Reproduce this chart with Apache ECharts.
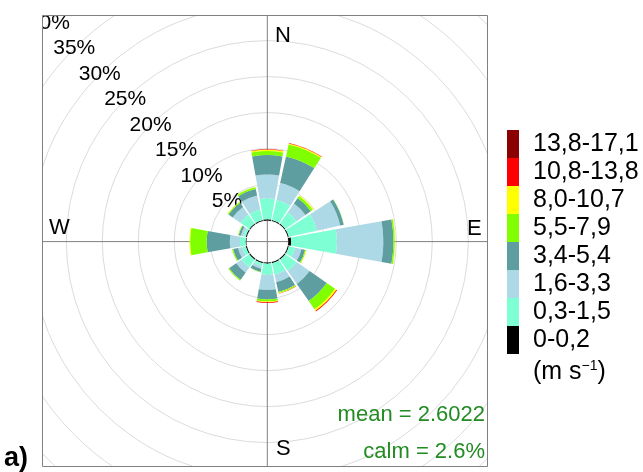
<!DOCTYPE html>
<html>
<head>
<meta charset="utf-8">
<script src="https://cdn.jsdelivr.net/npm/echarts@6/dist/echarts.min.js"></script>
<style>html,body{margin:0;padding:0;background:#fff}#c{width:643px;height:472px}</style>
</head>
<body>
<div id="c"></div>
<script>
// Directions (16 sectors, clockwise from North)
const directions = ['N','NNE','NE','ENE','E','ESE','SE','SSE','S','SSW','SW','WSW','W','WNW','NW','NNW'];
// Speed bins (m s-1)
const binLabels = ['0-0,2','0,3-1,5','1,6-3,3','3,4-5,4','5,5-7,9','8,0-10,7','10,8-13,8','13,8-17,1'];
const binColors = ['#000000','#7FFFD4','#ADD8E6','#5F9EA0','#7FFF00','#FFFF00','#FF0000','#8B0000'];
// Frequency (%) per bin, per direction
const bin0 = [0.2, 0.15, 0.15, 0.15, 0.4, 0.15, 0.15, 0.15, 0.15, 0.15, 0.15, 0.15, 0.1, 0.15, 0.15, 0.15];
const bin1 = [2.9, 2.85, 1.9, 4.0, 6.35, 0.9, 1.9, 1.6, 1.55, 0.4, 1.3, 0.5, 0.8, 0.35, 1.5, 1.5];
const bin2 = [3.3, 2.4, 1.5, 3.3, 6.45, 0.9, 2.2, 1.1, 2.1, 0.4, 0.9, 0.6, 1.4, 0.35, 1.3, 2.0];
const bin3 = [2.7, 3.8, 0.9, 0.5, 1.4, 0.5, 2.9, 1.4, 1.3, 0.45, 1.2, 0.7, 3.2, 0.3, 0.7, 0.9];
const bin4 = [0.55, 1.7, 0.35, 0.03, 0.2, 0.15, 1.4, 0.15, 0.3, 0.05, 0.15, 0.15, 2.3, 0.1, 0.15, 0.25];
const bin5 = [0.2, 0.15, 0.1, 0, 0.05, 0.05, 0.25, 0.05, 0.1, 0, 0, 0, 0.1, 0, 0.05, 0.05];
const bin6 = [0.05, 0.05, 0, 0, 0, 0, 0.1, 0.05, 0.1, 0, 0, 0, 0, 0, 0, 0];
const bin7 = [0, 0, 0, 0, 0, 0, 0, 0, 0, 0, 0, 0, 0, 0, 0, 0];
const binValues = [bin0, bin1, bin2, bin3, bin4, bin5, bin6, bin7];
// Radial axis (%)
const ringMax = 40;
const ringStep = 5;
const compassLabels = ['N','E','S','W'];
const meanText = 'mean = 2.6022';
const calmText = 'calm = 2.6%';

const FONT = '"Liberation Sans", Arial, sans-serif';
const C = [267.3, 241.6];
const HOLE = 21, ROUT = 309;

const chart = echarts.init(document.getElementById('c'), null, {renderer: 'canvas'});

const hidden = {axisLine:{show:false}, axisTick:{show:false}, axisLabel:{show:false}, splitLine:{show:false}};

const series = binLabels.map((name, i) => ({
  type: 'bar',
  name: name,
  coordinateSystem: 'polar',
  polarIndex: 0,
  stack: 'rose',
  data: binValues[i],
  barCategoryGap: '10%',
  itemStyle: {color: binColors[i]},
  emphasis: {disabled: true},
  z: 2
}));

const W = 643, H = 472;
const box = {x: 43, y: 16, w: 444, h: 450};
const mask = (x, y, w, h) => ({type:'rect', z: 100, silent: true, shape:{x, y, width:w, height:h}, style:{fill:'#fff'}});
const txt = (t, x, y, size, align, color, weight) => ({
  type:'text', z: 120, x, y, silent: true,
  style:{text:t, font:(weight||'normal') + ' ' + size + 'px ' + FONT, fill: color || '#000', align: align || 'left', verticalAlign:'middle'}
});

const option = {
  animation: false,
  backgroundColor: '#fff',
  polar: [
    {center: C, radius: [HOLE, ROUT]},
    {center: C, radius: [0, ROUT]},
    {center: C, radius: [HOLE, ROUT]}
  ],
  angleAxis: [
    Object.assign({polarIndex:0, type:'category', data: directions, startAngle: 90 + 360/directions.length/2, clockwise: true, boundaryGap: true}, hidden),
    Object.assign({polarIndex:1, type:'value', min:0, max:360, interval:90, startAngle:90, clockwise:true}, hidden,
      {splitLine:{show:true, lineStyle:{color:'#808080', width:1}}}),
    Object.assign({polarIndex:2, type:'value', min:0, max:360, startAngle:135}, hidden)
  ],
  radiusAxis: [
    Object.assign({polarIndex:0, type:'value', min:0, max:ringMax}, hidden),
    Object.assign({polarIndex:1, type:'value', min:0, max:1}, hidden),
    Object.assign({polarIndex:2, type:'value', min:0, max:ringMax, interval:ringStep}, hidden, {
      splitLine:{show:true, lineStyle:{color:'#dcdcdc', width:1}},
      axisLabel:{show:true, formatter:'{value}%', margin:0, align:'center', verticalAlign:'middle', showMinLabel:false,
        fontSize:21, fontFamily:FONT, color:'#000'}
    })
  ],
  legend: {
    z: 110,
    orient: 'vertical',
    left: 507, top: 130,
    itemWidth: 12, itemHeight: 28, itemGap: 0,
    padding: 0,
    icon: 'rect',
    selectedMode: false,
    data: binLabels.slice().reverse(),
    textStyle: {fontSize: 25, fontFamily: FONT, color:'#000', padding:[0,0,0,9]}
  },
  graphic: {elements: [
    mask(0, 0, box.x - 0.5, H),
    mask(box.x + box.w + 0.5, 0, W, H),
    mask(0, 0, W, box.y - 0.5),
    mask(0, box.y + box.h + 0.5, W, H),
    {type:'rect', z: 105, silent:true, shape:{x: box.x - 0.5, y: box.y - 0.5, width: box.w + 1, height: box.h + 1}, style:{fill:'none', stroke:'#808080', lineWidth:1}},
    txt(compassLabels[0], 275, 36, 22),
    txt(compassLabels[1], 467, 229, 22),
    txt(compassLabels[2], 276, 449, 22),
    txt(compassLabels[3], 49, 228, 22),
    txt(meanText, 485, 415, 22, 'right', '#228B22'),
    txt(calmText, 485, 452, 22, 'right', '#228B22'),
    {type:'text', z:120, x:533, y:372, silent:true,
      style:{text:'(m s{sup|\u22121})', font:'25px ' + FONT, fill:'#000', verticalAlign:'middle',
        rich:{sup:{fontSize:14, fontFamily:FONT, fill:'#000', verticalAlign:'top', padding:[0,0,12,0]}}}},
    txt('a)', 4, 459, 27, 'left', '#000', 'bold')
  ]},
  series: series
};
chart.setOption(option);
</script>
</body>
</html>
